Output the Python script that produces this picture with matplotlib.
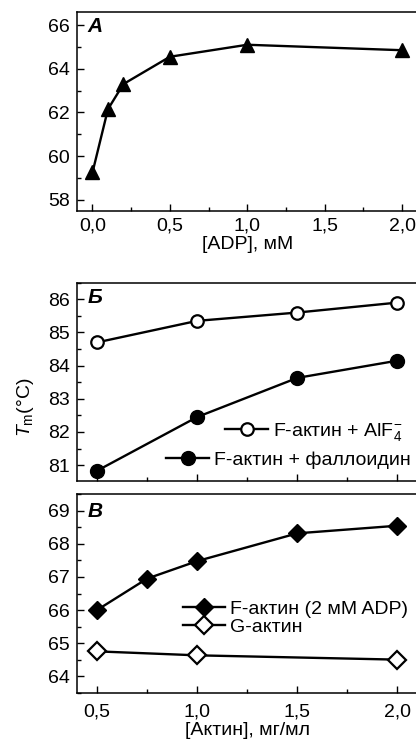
import matplotlib
matplotlib.use("Agg")
import matplotlib.pyplot as plt
from matplotlib.ticker import MultipleLocator
from matplotlib.lines import Line2D

plt.rcParams['font.family'] = ['Liberation Sans', 'DejaVu Sans']
plt.rcParams['mathtext.fontset'] = 'custom'
plt.rcParams['mathtext.rm'] = 'Liberation Sans'
plt.rcParams['mathtext.it'] = 'Liberation Sans:italic'
plt.rcParams['mathtext.bf'] = 'Liberation Sans:bold'

# panel A: Tm vs ADP
adp = [0.0, 0.1, 0.2, 0.5, 1.0, 2.0]
tm_adp = [59.25, 62.15, 63.3, 64.55, 65.1, 64.85]

# panel B: Tm vs actin concentration
actin_b = [0.5, 1.0, 1.5, 2.0]
tm_alf4 = [84.7, 85.35, 85.6, 85.9]
tm_phal = [80.83, 82.45, 83.63, 84.15]

# panel C
actin_f = [0.5, 0.75, 1.0, 1.5, 2.0]
tm_f = [66.0, 66.95, 67.48, 68.32, 68.55]
actin_g = [0.5, 1.0, 2.0]
tm_g = [64.75, 64.63, 64.5]

xticks_a = [0.0, 0.5, 1.0, 1.5, 2.0]
xlabels_a = ['0,0', '0,5', '1,0', '1,5', '2,0']
xticks_bc = [0.5, 1.0, 1.5, 2.0]
xlabels_bc = ['0,5', '1,0', '1,5', '2,0']

W, H = 416, 740
fig = plt.figure(figsize=(W / 100, H / 100), dpi=100)


def box(left, right, top, bottom):
    return [left / W, 1 - bottom / H, (right - left) / W, (bottom - top) / H]


def style(ax, xpad=4):
    for s in ax.spines.values():
        s.set_linewidth(1.1)
    ax.tick_params(which='both', direction='in', top=False, right=False,
                   labelsize=fs, width=1.0)
    ax.tick_params(which='major', length=5)
    ax.tick_params(which='minor', length=3)
    ax.tick_params(axis='y', pad=5)
    ax.tick_params(axis='x', pad=xpad)


fs = 14
lw = 1.7
ms = 9

axA = fig.add_axes(box(77, 417.5, 12, 210.7))
axA.plot(adp, tm_adp, color='black', lw=lw, marker='^', ms=ms + 1)
axA.set_xlim(-0.1, 2.1)
axA.set_ylim(57.5, 66.6)
axA.set_xticks(xticks_a)
axA.set_xticklabels(xlabels_a)
axA.xaxis.set_minor_locator(MultipleLocator(0.25))
axA.set_yticks([58, 60, 62, 64, 66])
axA.yaxis.set_minor_locator(MultipleLocator(1))
axA.set_xlabel('[ADP], мМ', fontsize=fs, labelpad=1)
axA.text(0.03, 0.925, 'А', transform=axA.transAxes, fontsize=15,
         fontweight='bold', fontstyle='italic', va='center', ha='left')
style(axA, xpad=5)

axB = fig.add_axes(box(77, 417.5, 282.7, 480.7))
axB.plot(actin_b, tm_alf4, color='black', lw=lw, marker='o', ms=ms,
         mfc='white', mec='black', mew=1.6)
axB.plot(actin_b, tm_phal, color='black', lw=lw, marker='o', ms=ms + 1)
axB.set_xlim(0.4, 2.1)
axB.set_ylim(80.53, 86.5)
axB.set_xticks(xticks_bc)
axB.set_xticklabels([])
axB.xaxis.set_minor_locator(MultipleLocator(0.25))
axB.set_yticks([81, 82, 83, 84, 85, 86])
axB.yaxis.set_minor_locator(MultipleLocator(0.5))
axB.text(0.03, 0.925, 'Б', transform=axB.transAxes, fontsize=15,
         fontweight='bold', fontstyle='italic', va='center', ha='left')
h1 = Line2D([], [], color='black', lw=lw, marker='o', ms=ms, mfc='white',
            mec='black', mew=1.6)
h2 = Line2D([], [], color='black', lw=lw, marker='o', ms=ms + 1)
leg1 = axB.legend([h1], ['F-актин + AlF$_4^{-}$'], loc='center right',
                  bbox_to_anchor=(0.955, 0.245), frameon=False, fontsize=fs,
                  handlelength=2.2, handletextpad=0.25, borderpad=0, borderaxespad=0)
axB.add_artist(leg1)
axB.legend([h2], ['F-актин + фаллоидин'], loc='center right',
           bbox_to_anchor=(0.98, 0.105), frameon=False, fontsize=fs,
           handlelength=2.2, handletextpad=0.25, borderpad=0, borderaxespad=0)
style(axB)

axC = fig.add_axes(box(77, 417.5, 494.3, 692.7))
axC.plot(actin_f, tm_f, color='black', lw=lw, marker='D', ms=ms,
         label='F-актин (2 мМ ADP)')
axC.plot(actin_g, tm_g, color='black', lw=lw, marker='D', ms=ms,
         mfc='white', mec='black', mew=1.6, label='G-актин')
axC.set_xlim(0.4, 2.1)
axC.set_ylim(63.5, 69.5)
axC.set_xticks(xticks_bc)
axC.set_xticklabels(xlabels_bc)
axC.xaxis.set_minor_locator(MultipleLocator(0.25))
axC.set_yticks([64, 65, 66, 67, 68, 69])
axC.yaxis.set_minor_locator(MultipleLocator(0.5))
axC.set_xlabel('[Актин], мг/мл', fontsize=fs, labelpad=1)
axC.text(0.03, 0.915, 'В', transform=axC.transAxes, fontsize=15,
         fontweight='bold', fontstyle='italic', va='center', ha='left')
axC.legend(loc='center left', bbox_to_anchor=(0.31, 0.376), frameon=False,
           fontsize=fs, handlelength=2.2, handletextpad=0.25, labelspacing=0.05,
           borderpad=0, borderaxespad=0)
style(axC, xpad=8)

fig.text(25 / W, 1 - 407 / H, '$T_\\mathrm{m}$(°C)', rotation=90,
         fontsize=fs, ha='center', va='center')

fig.savefig('out.png', dpi=100)
